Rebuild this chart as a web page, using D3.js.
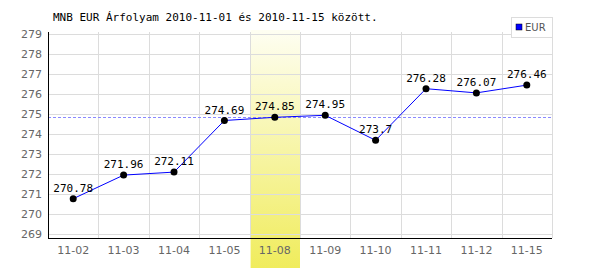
<!DOCTYPE html>
<html>
<head>
<meta charset="utf-8">
<script src="https://cdn.jsdelivr.net/npm/d3@7"></script>
<style>
  body { margin: 0; background: #fff; }
</style>
</head>
<body>
<div id="chart"></div>
<script>
// data
const days = ["11-02", "11-03", "11-04", "11-05", "11-08", "11-09", "11-10", "11-11", "11-12", "11-15"];
const eurRates = [270.78, 271.96, 272.11, 274.69, 274.85, 274.95, 273.7, 276.28, 276.07, 276.46];
const yTicks = [269, 270, 271, 272, 273, 274, 275, 276, 277, 278, 279];
const highlightDay = "11-08";
const refValue = 274.85;
const titleText = "MNB EUR Árfolyam 2010-11-01 és 2010-11-15 között.";
const seriesName = "EUR";

const width = 600, height = 270;
const margin = { top: 32, right: 48, bottom: 32, left: 48 };

const svg = d3.select("#chart").append("svg")
  .attr("width", width)
  .attr("height", height);

const x = d3.scaleBand().domain(days).range([margin.left, width - margin.right]);
const y = d3.scaleLinear().domain([269, 279]).range([234.3, 34.3]);

// highlight band gradient
const grad = svg.append("defs").append("linearGradient")
  .attr("id", "hl")
  .attr("x1", 0).attr("y1", 0).attr("x2", 0).attr("y2", 1);
grad.append("stop").attr("offset", "0%").attr("stop-color", "#fefef2");
grad.append("stop").attr("offset", "100%").attr("stop-color", "#f0ec5c");

svg.append("rect")
  .attr("x", x(highlightDay) + 1)
  .attr("y", margin.top - 2)
  .attr("width", x.bandwidth() - 1)
  .attr("height", height - margin.top)
  .attr("fill", "url(#hl)");

// grid
const grid = svg.append("g").attr("class", "grid");
grid.selectAll("line.h")
  .data(yTicks)
  .enter().append("line")
  .attr("x1", margin.left).attr("x2", width - margin.right)
  .attr("y1", d => Math.round(y(d)) + 0.5).attr("y2", d => Math.round(y(d)) + 0.5)
  .style("stroke", "#dcdcdc");
grid.selectAll("line.v")
  .data(days.slice(1).concat(["end"]))
  .enter().append("line")
  .attr("x1", (d, i) => Math.round(margin.left + x.bandwidth() * (i + 1)) + 0.5)
  .attr("x2", (d, i) => Math.round(margin.left + x.bandwidth() * (i + 1)) + 0.5)
  .attr("y1", margin.top).attr("y2", height - margin.bottom)
  .style("stroke", "#dcdcdc");

// reference dashed line
svg.append("line")
  .attr("x1", margin.left).attr("x2", width - margin.right)
  .attr("y1", Math.round(y(refValue)) + 0.5).attr("y2", Math.round(y(refValue)) + 0.5)
  .style("stroke", "#8a8aff")
  .style("stroke-dasharray", "3,2");

// axes
const yAxis = d3.axisLeft(y).tickValues(yTicks).tickSize(0).tickPadding(6);
svg.append("g")
  .attr("transform", `translate(${margin.left},0)`)
  .call(yAxis)
  .call(g => g.select(".domain").remove())
  .selectAll("text")
  .attr("font-family", "DejaVu Sans, sans-serif")
  .attr("font-size", "11px")
  .attr("fill", "#666");

const xAxis = d3.axisBottom(x).tickSize(0).tickPadding(8);
svg.append("g")
  .attr("transform", `translate(0,${height - margin.bottom})`)
  .call(xAxis)
  .call(g => g.select(".domain").remove())
  .selectAll("text")
  .attr("font-family", "DejaVu Sans, sans-serif")
  .attr("font-size", "11px")
  .attr("fill", "#666");

svg.append("line")
  .attr("x1", margin.left + 0.5).attr("x2", margin.left + 0.5)
  .attr("y1", margin.top).attr("y2", height - margin.bottom)
  .style("stroke", "#000");
svg.append("line")
  .attr("x1", margin.left).attr("x2", width - margin.right)
  .attr("y1", height - margin.bottom + 0.5).attr("y2", height - margin.bottom + 0.5)
  .style("stroke", "#000");

// series line
const cx = d => x(d) + x.bandwidth() / 2;
const line = d3.line()
  .x((d, i) => cx(days[i]))
  .y(d => y(d));

svg.append("path")
  .datum(eurRates)
  .attr("d", line)
  .style("fill", "none")
  .style("stroke", "#0000ff")
  .style("stroke-width", 1);

svg.append("g").selectAll("circle")
  .data(eurRates)
  .enter().append("circle")
  .attr("cx", (d, i) => cx(days[i]))
  .attr("cy", d => y(d))
  .attr("r", 3.5)
  .style("fill", "#000");

svg.append("g").selectAll("text")
  .data(eurRates)
  .enter().append("text")
  .attr("x", (d, i) => cx(days[i]))
  .attr("y", d => y(d) - 7)
  .attr("text-anchor", "middle")
  .attr("font-family", "DejaVu Sans Mono, monospace")
  .attr("font-size", "11px")
  .attr("fill", "#000")
  .text(d => d);

// title
svg.append("text")
  .attr("x", 53)
  .attr("y", 21)
  .attr("font-family", "DejaVu Sans Mono, monospace")
  .attr("font-size", "11px")
  .attr("fill", "#000")
  .text(titleText);

// legend
const lg = svg.append("g").attr("transform", "translate(511,17)");
lg.append("rect")
  .attr("x", 0.5).attr("y", 0.5)
  .attr("width", 41).attr("height", 20)
  .style("fill", "#fff")
  .style("stroke", "#dcdcdc");
lg.append("rect")
  .attr("x", 5).attr("y", 7)
  .attr("width", 6).attr("height", 6)
  .style("fill", "#0000ff")
  .style("stroke", "#000")
  .style("stroke-width", 0.5);
lg.append("text")
  .attr("x", 14).attr("y", 14)
  .attr("font-family", "DejaVu Sans, sans-serif")
  .attr("font-size", "10px")
  .attr("fill", "#555")
  .text(seriesName);
</script>
</body>
</html>
